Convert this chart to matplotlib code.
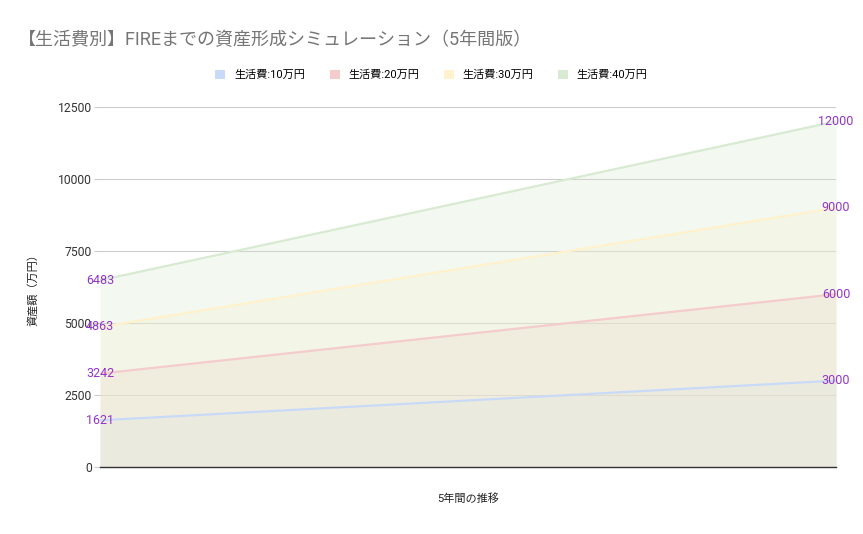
import matplotlib
matplotlib.use('Agg')
import matplotlib.pyplot as plt
from matplotlib.patches import Patch

plt.rcParams['font.family'] = ['Roboto', 'Noto Sans CJK JP', 'DejaVu Sans']

# データ（5年間の推移：開始時点と5年後）
x_points = [0, 1]
series_names = ['生活費:10万円', '生活費:20万円', '生活費:30万円', '生活費:40万円']
cost_10 = [1621, 3000]
cost_20 = [3242, 6000]
cost_30 = [4863, 9000]
cost_40 = [6483, 12000]
y_ticks = [0, 2500, 5000, 7500, 10000, 12500]

colors = ['#c9daf8', '#f4cccc', '#fff2cc', '#d9ead3']
label_color = '#9334c8'

fig = plt.figure(figsize=(8.63, 5.34), dpi=100)
ax = fig.add_axes([100 / 863, 1 - 467 / 534, 736 / 863, 360 / 534])

for vals, c in zip([cost_10, cost_20, cost_30, cost_40], colors):
    ax.fill_between(x_points, 0, vals, color=c, alpha=0.3, linewidth=0)
    ax.plot(x_points, vals, color=c, linewidth=1.6)
    ax.text(x_points[0], vals[0], str(vals[0]), color=label_color, fontsize=9,
            ha='center', va='center', clip_on=False, zorder=5)
    ax.text(x_points[1], vals[1], str(vals[1]), color=label_color, fontsize=9,
            ha='center', va='center', clip_on=False, zorder=5)

ax.set_xlim(0, 1)
ax.set_ylim(0, 12500)
ax.set_yticks(y_ticks)
ax.set_yticklabels([str(t) for t in y_ticks], fontsize=8.7, color='#333333')
ax.set_xticks([])
ax.tick_params(axis='y', length=4, color='#cccccc', pad=2)
ax.grid(axis='y', color='#cccccc', linewidth=0.8)
ax.set_axisbelow(True)
for s in ['top', 'right', 'left']:
    ax.spines[s].set_visible(False)
ax.spines['bottom'].set_color('#333333')
ax.spines['bottom'].set_linewidth(1.0)

ax.set_ylabel('資産額（万円）', fontsize=8, color='#222222', labelpad=14)
ax.set_xlabel('5年間の推移', fontsize=8, color='#222222', labelpad=19)

fig.text(18 / 863, 1 - 40 / 534, '【生活費別】FIREまでの資産形成シミュレーション（5年間版）',
         fontsize=13, color='#757575', va='center', ha='left')

handles = [Patch(facecolor=c, edgecolor='none') for c in colors]
fig.legend(handles, series_names, loc='center', bbox_to_anchor=(0.5, 1 - 75 / 534),
           ncol=4, frameon=False, fontsize=8, handlelength=0.9, handleheight=0.9,
           columnspacing=2.2, handletextpad=0.8)

fig.savefig('out.png', dpi=100)
